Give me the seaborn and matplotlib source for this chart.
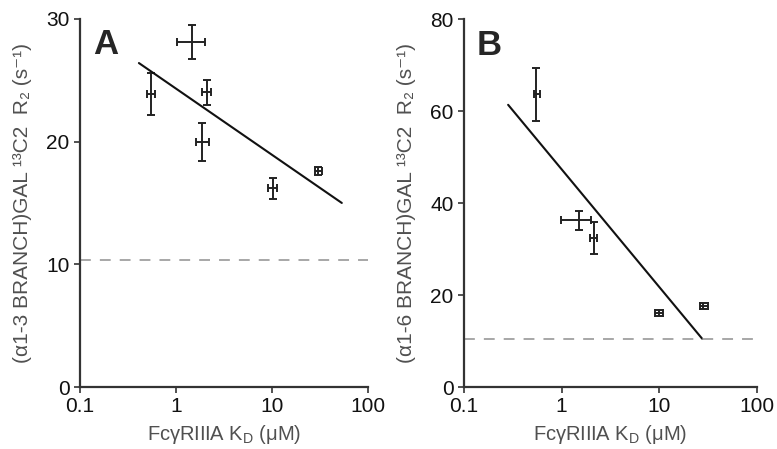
import numpy as np
import pandas as pd
import seaborn as sns
import matplotlib.pyplot as plt

sns.set_style("white")
plt.rcParams["font.family"] = ["Liberation Sans", "DejaVu Sans"]

# panel A: (alpha1-3 branch) Gal 13C2 R2 vs FcgRIIIa KD
a_kd = [0.55, 1.47, 2.12, 1.88, 10.1, 29.9]
a_kd_lo = [0.50, 1.02, 1.84, 1.60, 9.1, 28.0]
a_kd_hi = [0.60, 2.00, 2.30, 2.20, 11.1, 33.0]
a_r2 = [23.9, 28.1, 24.0, 20.0, 16.2, 17.6]
a_r2_err = [1.7, 1.4, 1.0, 1.55, 0.85, 0.3]
a_fit_x = [0.41, 53.0]
a_fit_y = [26.4, 15.0]
a_free = 10.35

# panel B: (alpha1-6 branch)
b_kd = [0.547, 1.51, 2.15, 10.0, 28.3]
b_kd_lo = [0.52, 0.99, 1.95, 9.1, 26.0]
b_kd_hi = [0.60, 2.00, 2.30, 11.0, 32.0]
b_r2 = [63.7, 36.3, 32.5, 16.1, 17.6]
b_r2_err = [5.8, 2.1, 3.5, 0.6, 0.7]
b_fit_x = [0.284, 27.6]
b_fit_y = [61.4, 10.5]
b_free = 10.5

panels = [
    ("A", a_kd, a_kd_lo, a_kd_hi, a_r2, a_r2_err, a_fit_x, a_fit_y, a_free,
     30, [0, 10, 20, 30], "(α1-3 BRANCH)GAL ¹³C2  R₂ (s⁻¹)"),
    ("B", b_kd, b_kd_lo, b_kd_hi, b_r2, b_r2_err, b_fit_x, b_fit_y, b_free,
     80, [0, 20, 40, 60, 80], "(α1-6 BRANCH)GAL ¹³C2  R₂ (s⁻¹)"),
]

fig = plt.figure(figsize=(7.77, 4.49), dpi=100)
rects = [[0.103, 0.138, 0.371, 0.820], [0.597, 0.138, 0.377, 0.819]]

for rect, (letter, kd, lo, hi, r2, err, fx, fy, free, ymax, yt, ylab) in zip(rects, panels):
    ax = fig.add_axes(rect)
    df = pd.DataFrame({"kd": kd, "r2": r2})
    xerr = np.array([np.array(kd) - np.array(lo), np.array(hi) - np.array(kd)])
    ax.errorbar(df["kd"], df["r2"], xerr=xerr, yerr=err, fmt="none",
                ecolor="#222222", elinewidth=1.4, capsize=3, capthick=1.4)
    fit = pd.DataFrame({"x": fx, "y": fy})
    sns.lineplot(data=fit, x="x", y="y", color="#111111", linewidth=1.5, ax=ax)
    ax.axhline(free, color="#a0a0a0", linewidth=1.3, dashes=(6, 5))
    ax.set_xscale("log")
    ax.set_xlim(0.1, 100)
    ax.set_ylim(0, ymax)
    ax.set_xticks([0.1, 1, 10, 100])
    ax.set_xticklabels(["0.1", "1", "10", "100"])
    ax.minorticks_off()
    ax.set_yticks(yt)
    ax.tick_params(axis="both", direction="out", length=4, width=1.2,
                   labelsize=15, color="#333333", labelcolor="#111111",
                   bottom=True, left=True)
    for s in ["top", "right"]:
        ax.spines[s].set_visible(False)
    for s in ["left", "bottom"]:
        ax.spines[s].set_color("#333333")
        ax.spines[s].set_linewidth(1.6)
    ax.set_xlabel("FcγRIIIA K$_\\mathregular{D}$ (μM)", fontsize=14.5,
                  color="#505050", labelpad=5)
    ax.set_ylabel(ylab, fontsize=15, color="#505050", labelpad=10)
    ax.text(0.045, 0.975, letter, transform=ax.transAxes, fontsize=25,
            fontweight="bold", va="top", ha="left")

fig.savefig("out.png", dpi=100)
